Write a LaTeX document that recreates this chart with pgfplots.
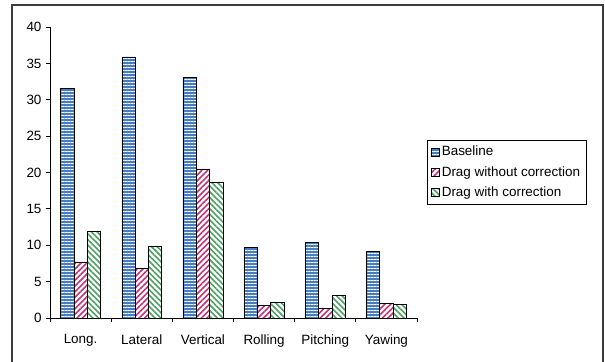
\documentclass[border=0pt]{standalone}
\usepackage{pgfplots}
\pgfplotsset{compat=1.18}
\usepackage{pgfplotstable}
\usepackage{fontspec}
\setmainfont{Liberation Sans}
\usetikzlibrary{patterns.meta}

\definecolor{baseblue}{RGB}{70,125,190}
\definecolor{dragmag}{RGB}{192,52,120}
\definecolor{draggreen}{RGB}{76,160,98}
\definecolor{framegray}{RGB}{60,60,60}

% RMS error per degree of freedom
\pgfplotstableread{
x  base  nocorr  corr
0.5 31.6 7.7  11.9
1.5 35.9 6.8  9.9
2.5 33.1 20.5 18.6
3.5 9.7  1.7  2.15
4.5 10.4 1.35 3.1
5.5 9.15 2.0  1.9
}\datatable

\begin{document}
\begin{tikzpicture}[x=1bp,y=1bp]
\useasboundingbox (0,0) rectangle (605,361);
% chart frame
\draw[framegray, line width=1.5bp] (12,-5) -- (12,356) -- (603,356) -- (603,-5);

\begin{axis}[
  at={(50bp,43bp)}, anchor=south west,
  scale only axis,
  width=367bp, height=291bp,
  xmin=0, xmax=6, ymin=0, ymax=40,
  axis x line*=bottom, axis y line*=left,
  axis line style={line width=0.8bp, black},
  every axis plot/.append style={line width=0.6bp},
  font=\fontsize{13.5}{15}\selectfont,
  /pgf/number format/assume math mode=true,
  ytick={0,5,...,40},
  ytick style={line width=0.8bp, black},
  tick align=outside,
  major tick length=4bp,
  yticklabel style={xshift=-1bp},
  xtick={0.5,1.5,...,5.5},
  xticklabels={Long.,Lateral,Vertical,Rolling,Pitching,Yawing},
  x tick style={draw=none},
  xticklabel style={yshift=-9bp},
  minor xtick={0,1,...,6},
  minor tick length=4bp,
  minor x tick style={line width=0.8bp, black, draw=black},
  ybar=0pt, bar width=13.3bp,
  legend cell align=left,
  legend image code/.code={\draw[#1, line width=0.6bp] (0bp,-4bp) rectangle (8bp,4bp);},
  legend style={
    at={(1.027,0.612)}, anchor=north west,
    draw=black, line width=0.6bp,
    font=\fontsize{13.5}{15}\selectfont,
    row sep=5bp, inner xsep=4bp, inner ysep=4bp,
    /tikz/every even column/.append style={column sep=7bp},
  },
]
\addplot[draw=black, preaction={fill=baseblue},
  pattern={Lines[angle=0,distance=3bp,line width=0.9bp]}, pattern color=white]
  table[x=x,y=base] {\datatable};
\addlegendentry{Baseline}
\addplot[draw=black, pattern={Lines[angle=45,distance=4bp,line width=1.6bp]}, pattern color=dragmag]
  table[x=x,y=nocorr] {\datatable};
\addlegendentry{Drag without correction}
\addplot[draw=black, pattern={Lines[angle=-45,distance=4bp,line width=1.6bp]}, pattern color=draggreen]
  table[x=x,y=corr] {\datatable};
\addlegendentry{Drag with correction}
\end{axis}
\end{tikzpicture}
\end{document}
